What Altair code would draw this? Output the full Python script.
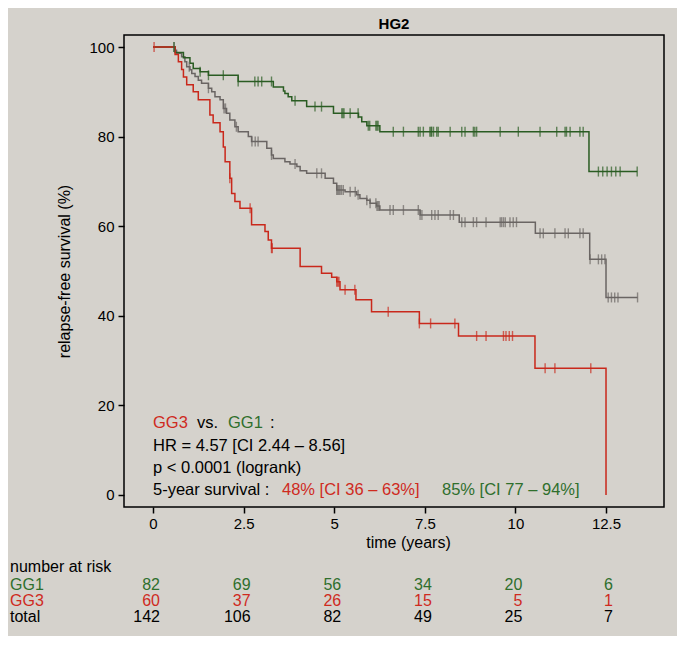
import altair as alt
import pandas as pd
import bisect

# ---------------- data ----------------
gg1_t = [0, 0.61, 0.84, 1.02, 1.11, 1.30, 1.53, 2.35, 3.32, 3.60, 3.64, 3.73, 3.83, 4.24,
         4.98, 5.67, 5.76, 5.90, 6.26, 12.03, 13.36]
gg1_s = [100, 98.8, 97.6, 96.4, 95.2, 94.5, 93.7, 92.3, 91.1, 90.2, 89.6, 88.9, 88.0, 86.7,
         85.2, 84.4, 83.3, 82.4, 81.1, 72.2, 72.2]
gg1_cens = [0.58, 1.30, 1.53, 1.94, 2.35, 2.81, 2.90, 3.00, 3.27, 3.92, 4.47, 4.65, 5.21, 5.24,
            5.27, 5.44, 5.66, 5.94, 5.98, 6.15, 6.18, 6.21, 6.63, 6.91, 7.32, 7.37, 7.46, 7.64,
            7.67, 7.69, 7.74, 7.83, 7.87, 8.20, 8.52, 8.61, 8.84, 8.88, 8.93, 9.58, 10.08, 10.68,
            11.14, 11.37, 11.41, 11.51, 11.78, 11.87, 12.29, 12.41, 12.53, 12.65, 12.77, 12.89, 13.36]

total_t = [0, 0.61, 0.65, 0.79, 0.88, 0.93, 1.02, 1.07, 1.16, 1.25, 1.34, 1.53, 1.62, 1.71, 1.85,
           1.94, 2.03, 2.12, 2.26, 2.35, 2.63, 2.72, 3.14, 3.27, 3.32, 3.64, 3.78, 3.97, 4.06,
           4.24, 4.75, 4.98, 5.07, 5.30, 5.62, 5.71, 5.90, 5.99, 6.17, 6.26, 7.37, 8.45, 10.55,
           12.05, 12.5, 13.37]
total_s = [100, 99.3, 98.6, 97.8, 96.7, 95.6, 94.9, 94.1, 93.4, 92.6, 91.9, 90.8, 90.0, 88.9, 88.2,
           86.3, 85.2, 83.7, 82.2, 81.1, 80.0, 78.9, 77.4, 75.9, 75.1, 74.4, 73.9, 73.3, 72.4,
           71.8, 70.7, 69.6, 68.1, 67.7, 67.0, 66.2, 65.8, 65.1, 64.5, 63.6, 62.5, 60.9, 58.4,
           52.6, 44.1, 44.1]
total_cens = [0.58, 1.00, 1.53, 1.96, 2.00, 2.30, 2.73, 2.82, 2.90, 3.27, 3.92, 4.52, 4.65, 5.07,
              5.10, 5.13, 5.16, 5.20, 5.25, 5.44, 5.58, 5.66, 5.90, 5.99, 6.15, 6.18, 6.21, 6.24,
              6.54, 6.63, 6.91, 7.32, 7.37, 7.42, 7.69, 7.78, 7.87, 8.20, 8.29, 8.52, 8.61, 8.84,
              8.93, 9.19, 9.58, 9.62, 9.67, 9.72, 9.85, 9.94, 10.03, 10.68, 10.77, 11.09, 11.37,
              11.46, 11.78, 11.87, 12.06, 12.29, 12.38, 12.47, 12.56, 12.65, 12.74, 12.83, 13.37]

gg3_t = [0, 0.61, 0.70, 0.79, 0.84, 0.93, 1.11, 1.25, 1.57, 1.66, 1.85, 1.94, 1.99, 2.12, 2.17,
         2.26, 2.40, 2.72, 3.09, 3.18, 3.27, 4.06, 4.65, 4.93, 5.07, 5.16, 5.60, 6.03, 7.35,
         8.43, 10.54, 12.5]
gg3_s = [100, 98.3, 96.7, 95.0, 93.3, 91.6, 90.0, 88.2, 84.8, 83.1, 81.1, 77.7, 74.4, 70.7, 67.3,
         65.5, 64.0, 60.3, 58.8, 56.9, 55.1, 51.0, 49.5, 48.6, 47.6, 45.8, 43.6, 40.9, 38.3,
         35.5, 28.3, 0]
gg3_cens = [0.03, 2.12, 2.68, 3.27, 3.29, 5.07, 5.10, 5.13, 5.30, 5.57, 6.49, 7.35, 7.66, 8.33,
            8.93, 9.19, 9.67, 9.74, 9.83, 9.92, 10.82, 11.09, 12.08]

risk_times = [0, 2.5, 5, 7.5, 10, 12.5]
risk_gg1 = [82, 69, 56, 34, 20, 6]
risk_gg3 = [60, 37, 26, 15, 5, 1]
risk_total = [142, 106, 82, 49, 25, 7]

groups = ["total", "GG1", "GG3"]
line_colors = ["#6a6563", "#2a5c22", "#c9281b"]
txt_red = "#cf2a1e"
txt_green = "#2f6f2c"
FONT = "Liberation Sans"

# ---------------- build tables ----------------
def step_at(ts, ss, t):
    i = bisect.bisect_right(ts, t) - 1
    return ss[max(i, 0)]

line_rows, cens_rows = [], []
for g, ts, ss, cs in [("total", total_t, total_s, total_cens),
                      ("GG1", gg1_t, gg1_s, gg1_cens),
                      ("GG3", gg3_t, gg3_s, gg3_cens)]:
    for k, (t, s) in enumerate(zip(ts, ss)):
        line_rows.append({"group": g, "t": t, "s": s, "k": k})
    for t in cs:
        cens_rows.append({"group": g, "t": t, "s": step_at(ts, ss, t)})
lines_df = pd.DataFrame(line_rows)
cens_df = pd.DataFrame(cens_rows)

xscale = alt.Scale(domain=[-0.8, 14.1], nice=False, zero=False)
yscale = alt.Scale(domain=[-2.68, 102.68], nice=False, zero=False)
cscale = alt.Scale(domain=groups, range=line_colors)

base_x = alt.X("t:Q", scale=xscale,
               axis=alt.Axis(values=risk_times, format=".3~g", title="time (years)",
                             titleX=284, titleAlign="center", titlePadding=3,
                             labelPadding=3))
base_y = alt.Y("s:Q", scale=yscale,
               axis=alt.Axis(values=[0, 20, 40, 60, 80, 100], title="relapse-free survival (%)",
                             titlePadding=16, labelPadding=4))

lines = []
for g in groups:
    sub = lines_df[lines_df.group == g]
    lines.append(alt.Chart(sub).mark_line(interpolate="step-after", strokeWidth=1.5).encode(
        x=base_x, y=base_y, order="k:Q",
        color=alt.Color("group:N", scale=cscale, legend=None)))
ticks = []
for g in groups:
    sub = cens_df[cens_df.group == g]
    ticks.append(alt.Chart(sub).mark_tick(orient="vertical", size=10, thickness=1.4).encode(
        x=alt.X("t:Q", scale=xscale), y=alt.Y("s:Q", scale=yscale),
        color=alt.Color("group:N", scale=cscale, legend=None)))

one = alt.Data(values=[{}])

def label(text, x, y, color="black", size=16.5, align="left"):
    return alt.Chart(one).mark_text(text=text, align=align, baseline="middle", font=FONT,
                                    fontSize=size, color=color).encode(
        x=alt.value(x), y=alt.value(y))

ann = [
    label("GG3", 29, 388, txt_red),
    label("vs.", 73, 388),
    label("GG1", 104, 388, txt_green),
    label(":", 146, 388),
    label("HR = 4.57 [CI 2.44 \u2013 8.56]", 29, 411),
    label("p < 0.0001 (logrank)", 29, 433),
    label("5-year survival :", 29, 455),
    label("48% [CI 36 \u2013 63%]", 158, 455, txt_red),
    label("85% [CI 77 \u2013 94%]", 318, 455, txt_green),
    label("number at risk", -114, 532, size=16),
    label("GG1", -114, 550, txt_green, size=16),
    label("GG3", -114, 566, txt_red, size=16),
    label("total", -114, 582, size=16),
]

risk_df = pd.DataFrame({"t": risk_times, "gg1": risk_gg1, "gg3": risk_gg3, "total": risk_total})
risk_layers = []
for col, yy, colr in [("gg1", 550, txt_green), ("gg3", 566, txt_red), ("total", 582, "black")]:
    risk_layers.append(alt.Chart(risk_df).mark_text(align="right", baseline="middle", dx=7,
                                                   font=FONT, fontSize=16, color=colr).encode(
        x=alt.X("t:Q", scale=xscale), y=alt.value(yy), text=alt.Text(f"{col}:Q")))

chart = alt.layer(*lines, *ticks, *ann, *risk_layers).properties(
    width=540, height=472,
    title=alt.Title("HG2", fontSize=15, fontWeight="bold", font=FONT, offset=3, color="black"),
    autosize=alt.AutoSizeParams(type="none"),
    padding={"left": 116, "top": 27, "right": 13, "bottom": 129},
    background="#d5d2cc",
).configure_view(stroke="black", strokeWidth=1.5, fill=None).configure_axis(
    grid=False, domain=False, tickColor="black", tickWidth=1.5, tickSize=6,
    labelFont=FONT, labelFontSize=15, labelColor="black",
    titleFont=FONT, titleFontSize=16, titleFontWeight="normal", titleColor="black",
)

chart.save("out.html", embed_options={"renderer": "svg", "actions": False})
